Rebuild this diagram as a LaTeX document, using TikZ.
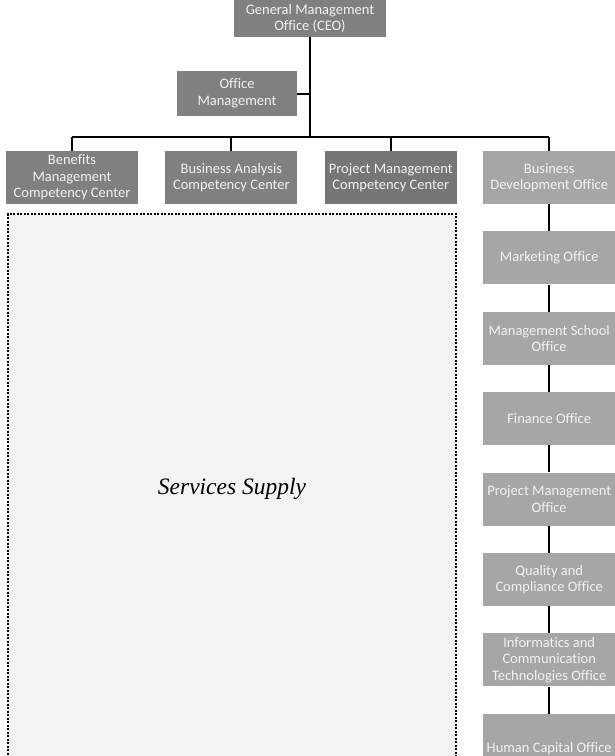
\documentclass[tikz,border=0pt]{standalone}
\usepackage{fontspec}
\setmainfont{Carlito}[Ligatures=NoCommon]
\newfontfamily\servfont{Liberation Serif}
\usetikzlibrary{positioning}
\definecolor{darkbox}{RGB}{128,128,128}
\definecolor{pmbox}{RGB}{118,118,118}
\definecolor{lightbox}{RGB}{166,166,166}
\definecolor{boxtext}{RGB}{242,242,242}
\definecolor{svcfill}{RGB}{243,243,243}

\begin{document}
\begin{tikzpicture}[x=1pt,y=1pt,
  unit/.style={fill=darkbox,text=boxtext,align=center,inner sep=2pt,
               minimum width=132pt,minimum height=53pt,
               font=\fontsize{14.5}{16.5}\selectfont},
  side/.style={unit,fill=lightbox},
  link/.style={line width=2pt,black}
]
\useasboundingbox (0,0) rectangle (615,-756);
\clip (0,0) rectangle (615,-756);

% Top of the chart
\node[unit,minimum width=152pt,minimum height=37pt] (ceo) at (310,-18.5) {General Management\\Office (CEO)};
\node[unit,minimum width=120pt,minimum height=45pt] (office) at (237,-93.5) {Office\\Management};
\coordinate (bus) at (310,-137);

% Competency centers
\node[unit] (benefits) at (72,-177.5) {Benefits\\Management\\Competency Center};
\node[unit,right=27pt of benefits] (analysis) {Business Analysis\\Competency Center};
\node[unit,fill=pmbox,right=27pt of analysis] (pmcc) {Project Management\\Competency Center};

% Business development column
\node[side,right=26pt of pmcc] (busdev) {Business\\Development Office};
\node[side,below=27pt of busdev] (marketing) {Marketing Office};
\node[side,below=27pt of marketing] (school) {Management School\\Office};
\node[side,below=27pt of school] (finance) {Finance Office};
\node[side,below=27pt of finance] (pmo) {Project Management\\Office};
\node[side,below=27pt of pmo] (quality) {Quality and\\Compliance Office};
\node[side,below=27pt of quality] (ict) {Informatics and\\Communication\\Technologies Office};
\node[side,below=27pt of ict,minimum height=70pt] (hcap) {Human Capital Office};

% Services area
\node[draw=black,fill=svcfill,line width=2pt,dash pattern=on 2pt off 1.5pt,
      minimum width=448pt,minimum height=550pt,
      font=\servfont\itshape\fontsize{23.5}{26}\selectfont] (services) at (232,-489) {Services Supply};

% Lines
\draw[link] (ceo) -- (bus);
\draw[link] (office.east) -- (office.east -| bus);
\draw[link] (benefits.north |- bus) -- (busdev.north |- bus);
\foreach \n in {benefits,analysis,pmcc,busdev}
  \draw[link] (\n.north) -- (\n.north |- bus);
\foreach \a/\b in {busdev/marketing,marketing/school,school/finance,finance/pmo,pmo/quality,quality/ict,ict/hcap}
  \draw[link] (\a) -- (\b);
\end{tikzpicture}
\end{document}
